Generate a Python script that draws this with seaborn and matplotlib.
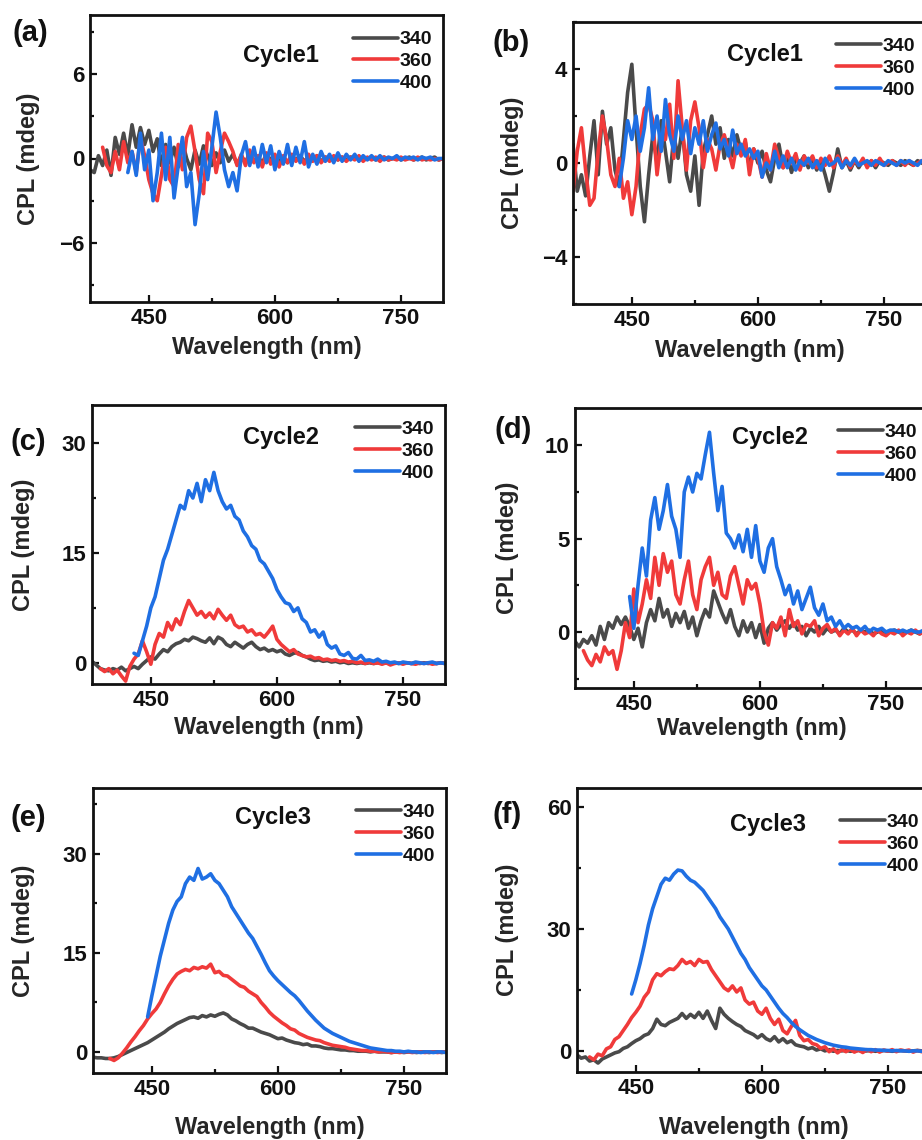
import numpy as np
import matplotlib
matplotlib.use("Agg")
import matplotlib.pyplot as plt
from matplotlib.ticker import MultipleLocator
import seaborn as sns

# excitation wavelengths (legend) and colours
excitations = ["340", "360", "400"]
colors = ["#4a4a4a", "#f03a3a", "#1f6fe3"]
step = 5  # nm between data points

# ---- (a) cycle 1, film 1 ----
a_start = [380, 395, 425]
a_340 = [-0.8, -1.0, 0.2, -0.5, 0.6, -1.2, 1.5, 0.3, 1.8, 0.2,
         2.4, 0.8, 2.2, 1.0, 2.0, 0.5, 1.4, -0.5, 1.0, -0.3,
         0.8, -0.6, 1.2, 0.0, -0.8, 0.6, -0.4, 0.9, 0.2, -0.5,
         0.4, -0.3, 0.6, -0.2, 0.3, -0.4, 0.2, -0.3, 0.4, -0.2,
         0.1, -0.3, 0.3, -0.1, 0.2, -0.2, 0.1, -0.3, 0.2, -0.1,
         0.2, -0.2, 0.1, -0.1, 0.2, -0.2, 0.1, 0.0, 0.1, -0.1,
         0.1, -0.1, 0.1, 0.0, 0.1, -0.1, 0.0, 0.1, -0.1, 0.0,
         0.1, -0.1, 0.0, 0.1, -0.1, 0.0, 0.1, -0.1, 0.0, 0.1,
         -0.1, 0.0, 0.1, -0.1, 0.0]
a_360 = [0.8, -0.5, -1.0, 0.5, -0.8, 1.2, -0.3, 0.5, -1.0, 1.5,
         0.2, -1.5, -2.5, -3.0, -1.2, 0.8, -1.5, -2.0, 1.0, -0.8,
         1.5, 2.3, 0.5, -1.5, -2.5, 1.8, 1.2, -1.0, 0.5, 1.8,
         1.2, 0.5, -0.5, 0.3, -0.5, 0.6, -0.3, 0.2, -0.6, 0.4,
         -0.4, 0.3, -0.6, 0.2, -0.3, 0.3, -0.2, 0.2, -0.4, 0.3,
         -0.2, 0.2, -0.3, 0.1, -0.2, 0.2, -0.1, 0.1, -0.2, 0.1,
         -0.1, 0.2, -0.2, 0.1, -0.1, 0.1, -0.2, 0.1, -0.1, 0.0,
         -0.1, 0.1, -0.1, 0.0, -0.1, 0.1, -0.1, 0.0, -0.1, 0.0,
         -0.1, 0.0]
a_400 = [-1.0, 0.5, -1.2, 1.8, -0.8, 0.6, -3.0, -1.0, 1.8, -1.5,
         1.5, -2.8, -0.5, 1.5, -2.0, -1.0, -4.7, -2.5, 0.5, -1.5,
         0.8, 3.3, 1.5, -0.8, -2.0, -1.0, -2.3, 0.2, 1.2, -0.5,
         0.8, -0.6, 1.0, -0.3, 0.9, -0.8, 0.5, -0.4, 1.0, -0.5,
         0.8, -0.3, 1.2, -0.6, 0.3, -0.4, 0.5, -0.2, 0.3, -0.3,
         0.4, -0.2, 0.3, -0.1, 0.3, -0.2, 0.2, -0.1, 0.2, -0.1,
         0.2, -0.1, 0.1, 0.0, 0.2, -0.1, 0.1, 0.0, 0.1, -0.1,
         0.1, 0.0, 0.1, -0.1, 0.0, 0.0]

# ---- (b) cycle 1, film 2 ----
b_start = [380, 380, 435]
b_340 = [0.8, -1.2, -0.5, -1.4, 0.3, 1.8, -0.5, 2.2, 0.8, 1.5,
         -0.3, -1.0, 1.0, 3.0, 4.2, 1.5, -1.0, -2.5, -0.5, 1.2,
         0.0, 1.8, 0.5, -0.8, 1.2, 0.2, 1.5, -0.5, -1.2, 0.3,
         -1.8, 0.5, 1.2, 2.0, 0.8, 1.5, 0.2, 1.0, 0.3, 1.2,
         0.5, 0.9, -0.2, 0.6, 0.0, 0.5, -0.3, -0.8, 0.2, 0.8,
         -0.2, 0.3, -0.4, 0.2, 0.0, 0.3, -0.2, 0.2, -0.3, 0.1,
         -0.5, -1.2, -0.4, 0.6, -0.2, 0.1, -0.3, 0.1, -0.2, 0.1,
         -0.1, 0.1, -0.2, 0.1, 0.0, -0.1, 0.1, 0.0, -0.1, 0.1,
         0.0, -0.1, 0.1, 0.0, -0.1]
b_360 = [-1.2, 0.5, 1.5, -0.3, -1.8, -1.5, 0.5, 2.0, 1.0, -0.5,
         -1.0, 0.2, -1.5, -0.8, -2.2, -1.0, 1.2, 2.3, 2.5, 1.8,
         -0.5, 1.0, 1.0, 2.5, 0.2, 3.5, 1.5, -0.3, 1.8, 2.6,
         1.5, -0.2, 1.0, 0.6, -0.3, 0.8, 1.2, 0.5, -0.2, 0.8,
         0.3, 1.0, -0.5, 0.6, 0.2, -0.6, 0.4, -0.3, 0.8, 0.2,
         -0.2, 0.5, 0.0, 0.4, -0.3, 0.3, 0.0, 0.3, -0.2, 0.2,
         -0.1, 0.3, -0.2, 0.3, -0.1, 0.2, -0.2, 0.1, -0.1, 0.2,
         -0.2, 0.1, -0.1, 0.2, -0.1, 0.0, 0.1, -0.1, 0.1, -0.1,
         0.1, -0.1, 0.0, 0.1, -0.1]
b_400 = [-1.0, 0.2, 1.8, 1.0, 2.0, 0.5, 1.5, 3.2, 1.0, 2.0,
         0.5, 2.7, 1.2, 0.5, 2.0, 1.0, 1.8, 0.4, 1.5, 0.8,
         1.8, 0.5, 1.2, 1.7, 0.6, 1.0, 0.3, 1.4, 0.4, 0.8,
         0.3, 0.6, 0.2, 0.5, -0.6, 0.0, -0.3, 0.5, -0.2, 0.3,
         -0.2, 0.2, -0.3, 0.1, -0.1, 0.2, -0.2, 0.1, -0.3, 0.2,
         -0.1, 0.0, 0.2, -0.2, 0.1, -0.1, 0.2, -0.1, 0.0, 0.1,
         -0.1, 0.1, 0.0, -0.1, 0.1, 0.0, -0.1, 0.1, 0.0, 0.1,
         0.0, -0.1, 0.1, 0.0]

# ---- (c) cycle 2, film 1 ----
c_start = [380, 390, 430]
c_340 = [0.2, -0.3, -0.8, -1.0, -1.1, -0.8, -1.0, -0.6, -1.1, -0.8,
         -0.5, -0.8, -0.2, 0.3, 0.8, 0.5, 1.2, 1.8, 1.5, 2.2,
         2.6, 2.8, 3.2, 3.0, 3.5, 3.3, 3.0, 2.8, 3.4, 2.6,
         3.5, 3.2, 2.5, 2.2, 2.8, 2.4, 2.0, 2.5, 2.8, 2.2,
         1.8, 2.0, 1.6, 1.8, 1.5, 1.7, 1.2, 1.0, 1.3, 1.4,
         1.0, 0.8, 0.5, 0.3, 0.4, 0.2, 0.3, 0.1, 0.2, 0.0,
         0.1, -0.1, 0.0, -0.1, 0.0, -0.1, 0.0, -0.1, 0.0, -0.1,
         0.0, -0.1, 0.0, -0.1, 0.0, 0.0, -0.1, 0.0, -0.1, 0.0,
         -0.1, 0.0, -0.1, 0.0, -0.1]
c_360 = [-0.8, -1.2, -0.8, -1.5, -1.0, -1.8, -2.5, -0.5, 0.5, 1.2,
         3.0, 1.5, -0.2, 2.5, 4.0, 3.5, 5.5, 4.5, 6.0, 5.2,
         7.0, 8.5, 7.5, 6.5, 7.0, 6.2, 6.8, 6.0, 7.3, 6.5,
         5.8, 6.5, 5.2, 4.8, 5.0, 4.2, 4.5, 3.8, 4.0, 3.5,
         4.2, 5.0, 3.2, 2.5, 2.0, 1.5, 1.8, 1.2, 1.0, 0.8,
         0.9, 0.6, 0.7, 0.4, 0.5, 0.3, 0.4, 0.2, 0.3, 0.1,
         0.2, 0.0, 0.1, -0.1, 0.1, -0.1, 0.0, -0.2, 0.0, -0.3,
         -0.1, 0.0, -0.2, 0.0, -0.1, -0.2, 0.0, -0.1, 0.0, -0.2,
         -0.1, 0.0, -0.1]
c_400 = [1.3, 1.0, 3.0, 5.0, 7.5, 9.0, 11.5, 14.0, 15.5, 17.5,
         19.5, 21.5, 21.0, 23.5, 22.5, 24.5, 22.0, 25.0, 23.5, 26.0,
         23.5, 22.0, 21.0, 21.5, 20.0, 19.5, 18.0, 17.2, 16.0, 15.5,
         14.0, 13.5, 12.5, 11.5, 10.0, 9.0, 8.2, 8.0, 7.0, 7.5,
         6.0, 5.5, 4.2, 4.5, 3.5, 4.2, 2.5, 2.0, 2.3, 1.2,
         1.0, 1.4, 0.6, 0.5, 1.0, 0.3, 0.4, 0.2, 0.5, 0.1,
         0.2, 0.0, 0.1, -0.1, 0.1, 0.0, -0.1, 0.1, 0.0, -0.1,
         0.0, 0.1, -0.1, 0.0, -0.1]

# ---- (d) cycle 2, film 2 ----
d_start = [380, 390, 445]
d_340 = [-0.5, -0.8, -0.4, -0.6, -0.2, -0.7, 0.3, -0.4, 0.5, 0.2,
         0.8, 0.4, 0.8, 0.3, -0.4, 0.2, -0.8, 0.5, 1.2, 0.6,
         1.8, 0.8, 1.2, 0.3, 1.0, 0.5, 1.1, 0.2, 0.8, -0.2,
         0.6, 1.2, 0.8, 2.2, 1.6, 1.0, 0.5, 1.2, 0.3, -0.2,
         0.6, 0.0, 0.5, -0.3, 0.4, -0.6, 0.2, 0.5, 0.1, 0.4,
         0.6, 0.2, 0.5, 0.1, 0.3, -0.2, 0.2, 0.0, 0.3, -0.1,
         0.2, 0.0, 0.1, -0.1, 0.2, 0.0, 0.1, -0.1, 0.1, 0.0,
         0.1, -0.1, 0.0, 0.1, -0.1, 0.0, 0.1, 0.0, -0.1, 0.0,
         0.1, 0.0, -0.1, 0.0, 0.0]
d_360 = [-1.0, -1.5, -1.8, -1.2, -1.6, -0.8, -1.2, -1.0, -2.0, -1.0,
         0.5, -0.3, 2.3, 0.5, 1.5, 2.8, 1.8, 4.0, 2.5, 4.2,
         3.2, 3.8, 2.0, 1.5, 2.8, 3.8, 2.0, 1.2, 2.8, 3.5,
         4.0, 2.5, 3.2, 2.0, 1.8, 3.0, 3.5, 2.5, 1.5, 2.8,
         2.3, 2.6, 1.5, 0.0, -0.7, 0.5, 0.2, 0.8, -0.2, 1.2,
         0.3, 0.6, -0.1, 0.4, 0.3, 0.6, -0.2, 0.2, 0.4, 0.0,
         0.2, -0.2, 0.1, -0.1, 0.2, -0.2, 0.1, -0.1, 0.0, -0.2,
         0.1, -0.1, -0.2, 0.0, -0.1, 0.1, -0.2, 0.0, -0.1, 0.1,
         -0.1, 0.0, -0.1]
d_400 = [1.9, 0.2, 2.5, 4.5, 3.0, 6.0, 7.2, 5.5, 6.5, 7.9,
         6.2, 5.5, 4.0, 7.5, 8.3, 7.5, 8.5, 8.2, 9.5, 10.7,
         8.5, 6.5, 7.8, 5.3, 5.0, 4.5, 5.2, 4.3, 5.5, 4.0,
         5.7, 3.8, 3.2, 4.5, 5.0, 3.5, 2.8, 2.0, 2.5, 1.5,
         2.2, 1.2, 1.8, 2.4, 1.3, 0.9, 1.5, 0.6, 0.8, 0.3,
         0.6, 0.2, 0.4, 0.2, 0.3, 0.1, 0.3, 0.0, 0.2, 0.1,
         0.2, 0.0, 0.1, 0.1, 0.0, 0.1, 0.0, 0.1, 0.0, 0.0,
         0.1, 0.0]

# ---- (e) cycle 3, film 1 ----
e_start = [380, 400, 445]
e_340 = [-0.8, -0.9, -0.9, -1.0, -1.0, -0.9, -0.7, -0.4, -0.1, 0.2,
         0.5, 0.8, 1.1, 1.4, 1.8, 2.2, 2.6, 3.0, 3.5, 3.9,
         4.3, 4.6, 4.9, 5.2, 5.3, 5.1, 5.5, 5.3, 5.6, 5.4,
         5.7, 5.9, 5.6, 5.0, 4.7, 4.3, 4.0, 3.6, 3.6, 3.3,
         3.0, 2.8, 2.6, 2.3, 2.0, 2.1, 1.8, 1.6, 1.4, 1.3,
         1.1, 1.2, 0.9, 0.9, 0.8, 0.6, 0.5, 0.5, 0.4, 0.3,
         0.3, 0.2, 0.2, 0.1, 0.1, 0.1, 0.0, 0.1, 0.0, 0.0,
         0.0, -0.1, 0.0, 0.0, -0.1, 0.0, 0.0, -0.1, 0.0, 0.0,
         -0.1, 0.0, 0.0, -0.1, 0.0]
e_360 = [-1.0, -1.3, -0.9, -0.2, 0.6, 1.5, 2.3, 3.2, 4.0, 5.0,
         5.8, 6.5, 7.5, 8.8, 10.0, 11.0, 11.8, 12.2, 12.5, 12.3,
         12.8, 12.6, 12.9, 12.7, 13.3, 12.0, 12.2, 11.6, 11.5, 11.0,
         10.5, 10.0, 9.8, 9.2, 8.8, 8.4, 7.5, 6.8, 6.0, 5.4,
         4.9, 4.4, 4.0, 3.5, 3.3, 2.8, 2.5, 2.2, 2.0, 1.8,
         1.7, 1.4, 1.2, 1.0, 0.9, 0.8, 0.7, 0.5, 0.4, 0.3,
         0.2, 0.2, 0.1, 0.1, 0.0, 0.1, 0.0, -0.1, 0.0, -0.1,
         0.0, 0.0, -0.1, 0.0, 0.0, -0.1, 0.0, 0.0, -0.1, 0.0,
         0.0]
e_400 = [5.3, 8.5, 11.5, 14.5, 17.0, 19.5, 21.5, 22.8, 23.5, 25.5,
         26.5, 26.0, 27.8, 26.2, 26.5, 27.0, 26.0, 25.5, 24.5, 23.5,
         22.0, 21.0, 20.0, 19.0, 18.0, 17.2, 16.0, 14.8, 13.5, 12.3,
         11.5, 10.8, 10.2, 9.6, 9.0, 8.5, 7.8, 7.0, 6.2, 5.5,
         4.8, 4.2, 3.6, 3.2, 2.8, 2.5, 2.2, 1.9, 1.6, 1.4,
         1.2, 1.0, 0.8, 0.6, 0.5, 0.4, 0.3, 0.2, 0.2, 0.1,
         0.1, 0.0, 0.1, 0.0, 0.0, -0.1, 0.0, 0.0, -0.1, 0.0,
         0.0, -0.1]

# ---- (f) cycle 3, film 2 ----
f_start = [380, 395, 445]
f_340 = [-1.0, -1.8, -1.5, -2.5, -2.2, -3.0, -2.0, -1.5, -1.0, -0.5,
         -0.2, 0.6, 1.0, 1.8, 2.5, 3.0, 3.8, 4.2, 5.5, 7.8,
         6.5, 6.2, 7.0, 7.5, 8.0, 9.2, 8.0, 9.0, 8.2, 9.5,
         8.0, 9.8, 7.5, 5.5, 10.5, 9.0, 8.0, 7.2, 6.5, 6.0,
         5.0, 4.5, 4.0, 3.2, 4.0, 3.0, 2.5, 3.5, 2.2, 3.0,
         2.0, 2.5, 1.5, 1.2, 1.0, 0.5, 0.8, 0.2, 0.5, 0.0,
         0.3, -0.1, 0.1, 0.0, 0.2, -0.1, 0.0, 0.1, -0.1, 0.0,
         0.1, -0.1, 0.0, 0.1, 0.0, -0.1, 0.0, 0.1, 0.0, -0.1,
         0.0, 0.1, 0.0, -0.1, 0.0]
f_360 = [-1.5, -2.2, -0.8, -1.2, 0.5, 1.0, 2.8, 3.5, 5.0, 6.5,
         8.2, 9.5, 11.0, 13.2, 14.5, 17.5, 19.0, 18.5, 19.5, 20.2,
         20.0, 21.0, 22.5, 21.5, 22.0, 21.0, 22.5, 21.8, 22.0, 20.0,
         18.5, 17.0, 15.5, 14.8, 16.0, 14.5, 15.5, 12.5, 11.5, 12.0,
         9.8, 9.0, 10.5, 8.0, 6.5, 7.8, 5.0, 4.2, 6.0, 7.5,
         3.8, 2.5, 2.8, 1.8, 1.5, 0.6, 1.0, -0.2, 0.5, -0.5,
         0.3, -0.2, 0.4, -0.3, 0.2, -0.4, 0.3, -0.2, 0.3, -0.3,
         0.2, -0.1, 0.3, -0.2, 0.2, 0.0, 0.2, -0.3, 0.1, -0.2,
         0.1, -0.1]
f_400 = [14.0, 17.5, 21.5, 26.0, 31.0, 35.0, 38.0, 41.0, 42.5, 42.0,
         43.5, 44.5, 44.3, 43.0, 42.0, 41.5, 40.5, 39.5, 38.0, 36.5,
         35.0, 33.0, 31.5, 30.0, 28.0, 26.0, 24.0, 22.5, 20.5, 19.0,
         17.5, 16.0, 15.0, 13.5, 12.0, 10.5, 9.2, 8.2, 7.0, 6.0,
         5.2, 4.5, 3.8, 3.3, 2.8, 2.4, 2.0, 1.7, 1.4, 1.2,
         1.0, 0.9, 0.7, 0.6, 0.5, 0.4, 0.3, 0.3, 0.2, 0.2,
         0.1, 0.1, 0.0, 0.1, 0.0, 0.0, -0.1, 0.0, 0.0, -0.1,
         0.0, 0.0]

panel_labels = ["(a)", "(b)", "(c)", "(d)", "(e)", "(f)"]
cycle_labels = ["Cycle1", "Cycle1", "Cycle2", "Cycle2", "Cycle3", "Cycle3"]
y_limits = [(-10.2, 10.2), (-6, 6), (-2.9, 35.2), (-3, 12), (-3.2, 40), (-5.2, 64.7)]
y_major = [6, 4, 15, 5, 15, 30]

panels = [
    (a_start, [a_340, a_360, a_400]),
    (b_start, [b_340, b_360, b_400]),
    (c_start, [c_340, c_360, c_400]),
    (d_start, [d_340, d_360, d_400]),
    (e_start, [e_340, e_360, e_400]),
    (f_start, [f_340, f_360, f_400]),
]

# layout, in pixels of the 922x1140 picture: left, top, bottom
W, H = 922, 1140
ax_px = [(90, 15, 302), (573, 22, 304), (92, 405, 684),
         (575, 408, 688), (93, 788, 1073), (577, 788, 1072)]
ax_w = 353
cycle_pos = [(0.54, 0.86), (0.544, 0.883), (0.535, 0.885),
             (0.553, 0.896), (0.51, 0.895), (0.54, 0.87)]
legend_top = [0.945, 0.945, 0.945, 0.945, 0.945, 0.91]
label_px = [(12, 33), (492, 43), (10, 442), (494, 430), (10, 818), (492, 815)]
ylabel_x = [-0.142, -0.139, -0.162, -0.159, -0.165, -0.164]
xlabel_y = [-0.118, -0.124, -0.115, -0.104, -0.151, -0.155]

sns.set_theme(style="ticks")
plt.rcParams["font.family"] = ["Liberation Sans", "DejaVu Sans"]
plt.rcParams["font.weight"] = "bold"
plt.rcParams["axes.labelweight"] = "bold"
plt.rcParams["text.color"] = "#111111"

fig = plt.figure(figsize=(W / 100, H / 100), dpi=100)

for i, (starts, series) in enumerate(panels):
    left, top, bottom = ax_px[i]
    ax = fig.add_axes([left / W, 1 - bottom / H, ax_w / W, (bottom - top) / H])
    for start, vals, name, col in zip(starts, series, excitations, colors):
        wl = np.arange(start, start + step * len(vals), step)
        sns.lineplot(x=wl, y=vals, ax=ax, color=col, lw=2.6, label=name)

    ax.set_xlim(380, 800)
    ax.set_ylim(*y_limits[i])
    ax.xaxis.set_major_locator(MultipleLocator(150))
    ax.xaxis.set_minor_locator(MultipleLocator(75))
    ax.yaxis.set_major_locator(MultipleLocator(y_major[i]))
    ax.yaxis.set_minor_locator(MultipleLocator(y_major[i] / 2))
    ax.tick_params(which="both", direction="in", width=1.6, colors="#111111",
                   labelsize=16, pad=4)
    ax.tick_params(which="major", length=5)
    ax.tick_params(which="minor", length=3)
    for lab in ax.get_xticklabels() + ax.get_yticklabels():
        lab.set_fontweight("bold")
    for sp in ax.spines.values():
        sp.set_linewidth(2.0)
        sp.set_color("#111111")

    ax.set_xlabel("Wavelength (nm)", fontsize=17, fontweight="bold")
    ax.set_ylabel("CPL (mdeg)", fontsize=17, fontweight="bold")
    ax.xaxis.set_label_coords(0.5, xlabel_y[i])
    ax.yaxis.set_label_coords(ylabel_x[i], 0.5)

    ax.text(cycle_pos[i][0], cycle_pos[i][1], cycle_labels[i], transform=ax.transAxes,
            ha="center", va="center", fontsize=17, fontweight="bold")
    ax.legend(loc="upper left", bbox_to_anchor=(0.745, legend_top[i]), frameon=False,
              handlelength=2.3, handletextpad=0.1, labelspacing=0.22,
              borderpad=0, borderaxespad=0, prop={"weight": "bold", "size": 14})

    lx, ly = label_px[i]
    fig.text(lx / W, 1 - ly / H, panel_labels[i], ha="left", va="center",
             fontsize=21, fontweight="bold")

fig.savefig("out.png", dpi=100)
